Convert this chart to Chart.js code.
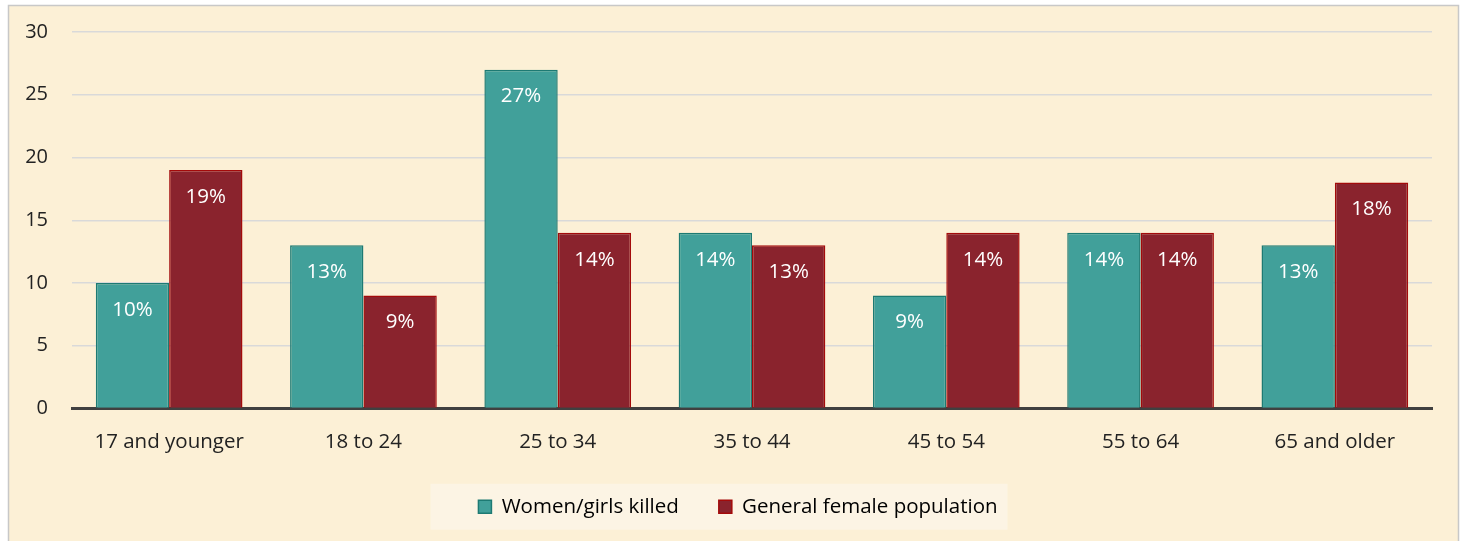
<!DOCTYPE html>
<html>
<head>
<meta charset="utf-8">
<script src="https://cdn.jsdelivr.net/npm/chart.js@4.4.1/dist/chart.umd.min.js"></script>
<style>
  html, body { margin: 0; padding: 0; background: #ffffff; }
  #wrap { position: relative; width: 1463px; height: 541px; }
</style>
</head>
<body>
<div id="wrap"><canvas id="chart" width="1463" height="541"></canvas></div>
<script>
const ageGroups = ["17 and younger", "18 to 24", "25 to 34", "35 to 44", "45 to 54", "55 to 64", "65 and older"];
const womenKilled = [10, 13, 27, 14, 9, 14, 13];
const generalPopulation = [19, 9, 14, 13, 14, 14, 18];
const seriesNames = ["Women/girls killed", "General female population"];

const FONT = "'Open Sans', Lato, sans-serif";
const LEGEND_SIZE = 20.5;
const LEGEND_PAD = 40;

// cream panel behind everything, plus the pale legend box
const panelPlugin = {
    id: "panel",
    afterLayout(chart) {
        // legend sits a little right of the canvas centre in the original
        chart.legend.left += 22;
        chart.legend.right += 22;
    },
    beforeDraw(chart) {
        const ctx = chart.ctx;
        ctx.save();
        ctx.fillStyle = "#ffffff";
        ctx.fillRect(0, 0, chart.width, chart.height);
        ctx.fillStyle = "#fcf0d6";
        ctx.fillRect(9, 6, 1449, 540);
        ctx.strokeStyle = "#c8c8c8";
        ctx.lineWidth = 1.5;
        ctx.beginPath();
        ctx.moveTo(8.5, 545);
        ctx.lineTo(8.5, 5.5);
        ctx.lineTo(1458.5, 5.5);
        ctx.lineTo(1458.5, 545);
        ctx.stroke();

        const lg = chart.legend;
        if (lg && lg.lineWidths) {
            const lineW = lg.lineWidths[0];
            const start = (lg.left + LEGEND_PAD + lg.right - lineW) / 2;
            const end = start + lineW - LEGEND_PAD;
            const mid = lg.top + LEGEND_PAD + LEGEND_SIZE / 2;
            ctx.fillStyle = "#fcf4e4";
            ctx.fillRect(start - 48, mid - 23, end - start + 58, 46);
        }
        ctx.restore();
    }
};

// percentage labels inside the top of each bar
const valueLabels = {
    id: "valueLabels",
    afterDatasetsDraw(chart) {
        const ctx = chart.ctx;
        ctx.save();
        ctx.fillStyle = "#ffffff";
        ctx.font = "20.5px " + FONT;
        ctx.textAlign = "center";
        ctx.textBaseline = "middle";
        chart.data.datasets.forEach((ds, i) => {
            chart.getDatasetMeta(i).data.forEach((bar, j) => {
                ctx.fillText(ds.data[j] + "%", bar.x, bar.y + 27);
            });
        });
        ctx.restore();
    }
};

new Chart(document.getElementById("chart").getContext("2d"), {
    type: "bar",
    data: {
        labels: ageGroups,
        datasets: [{
            label: seriesNames[0],
            data: womenKilled,
            backgroundColor: "#41a09a",
            borderColor: "#1d7a73",
            borderWidth: 1.5,
            borderSkipped: "bottom"
        }, {
            label: seriesNames[1],
            data: generalPopulation,
            backgroundColor: "#8a232d",
            borderColor: "#a30a0a",
            borderWidth: 1.5,
            borderSkipped: "bottom"
        }]
    },
    options: {
        responsive: false,
        animation: false,
        layout: { padding: { top: 32, right: 31, bottom: 14, left: 0 } },
        datasets: { bar: { categoryPercentage: 0.755, barPercentage: 1.0 } },
        scales: {
            x: {
                grid: { display: false, drawTicks: false },
                border: { color: "#404040", width: 3 },
                ticks: { color: "#222222", font: { family: FONT, size: 20.5 }, padding: 21 },
                afterFit: scale => { scale.height = 48; }
            },
            y: {
                min: 0,
                max: 30,
                ticks: { stepSize: 5, color: "#222222", font: { family: FONT, size: 20 }, padding: 0 },
                grid: { color: "#d9d9d9", lineWidth: 1.5, drawTicks: true, tickLength: 24, tickColor: "rgba(0,0,0,0)" },
                border: { display: false },
                afterFit: scale => { scale.width = 72; }
            }
        },
        plugins: {
            legend: {
                position: "bottom",
                labels: {
                    color: "#222222",
                    font: { family: FONT, size: LEGEND_SIZE },
                    boxWidth: 13,
                    boxHeight: 13,
                    padding: LEGEND_PAD,
                    generateLabels: chart => chart.data.datasets.map((ds, i) => ({
                        text: ds.label,
                        fillStyle: ds.backgroundColor,
                        strokeStyle: ds.borderColor,
                        lineWidth: 1.5,
                        datasetIndex: i
                    }))
                }
            },
            tooltip: { enabled: false }
        }
    },
    plugins: [panelPlugin, valueLabels]
});
</script>
</body>
</html>
